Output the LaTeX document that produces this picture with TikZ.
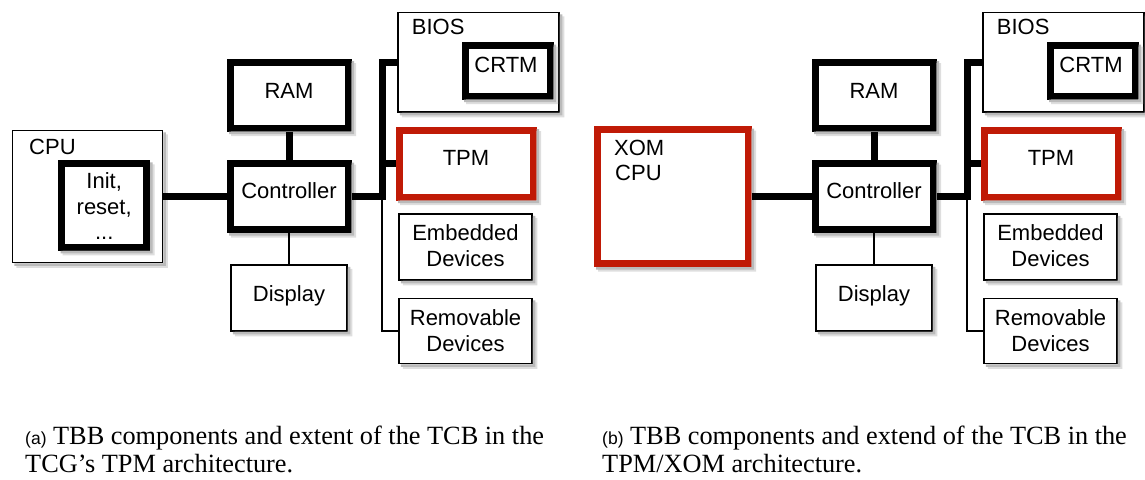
\documentclass[tikz,border=0pt]{standalone}
\usepackage{fontspec}
\setmainfont{Liberation Serif}
\newfontfamily\diagfont{Liberation Sans}
\definecolor{tcbred}{RGB}{192,26,6}
\tikzset{
  plainbox/.style={draw=black, fill=white, line width=1.5pt, inner sep=0pt},
  heavybox/.style={plainbox, line width=7pt},
  redbox/.style={plainbox, draw=tcbred, line width=7pt},
  lbl/.style={font=\diagfont\fontsize{22}{26}\selectfont, inner sep=0pt, anchor=base},
  bus/.style={line width=7pt},
  wire/.style={line width=1.5pt},
  caption/.style={font=\fontsize{26.3}{29}\selectfont, inner sep=0pt, anchor=base west},
  shade outer/.style={fill=black!13},
  shade inner/.style={fill=black!27},
}
\newcommand\capmark[1]{{\diagfont\fontsize{17.5}{20}\selectfont(#1)}}
% L-shaped shadow strip of depth #2 along the right and lower edges of box #1
\newcommand\shadestrip[3]{%
  \fill[#3] ([yshift=-#2]#1.north east) -- ([shift={(#2,-#2)}]#1.north east)
    -- ([shift={(#2,-#2)}]#1.south east) -- ([shift={(#2,-#2)}]#1.south west)
    -- ([xshift=#2]#1.south west) -- (#1.south east) -- cycle;}
\newcommand\dropshade[1]{\shadestrip{#1}{4.5pt}{shade outer}\shadestrip{#1}{2.5pt}{shade inner}}
% Memory, controller, display, BIOS/CRTM, TPM and device boxes with their bus;
% #1 = name prefix, #2 = horizontal offset of the whole group
\newcommand\platform[2]{%
\begin{scope}[xshift=#2pt]
  \node[heavybox, minimum width=118pt, minimum height=66pt] (#1ram) at (289,95) {};
  \dropshade{#1ram}
  \node[heavybox, minimum width=118pt, minimum height=66pt] (#1ctrl) at (289,196.5) {};
  \dropshade{#1ctrl}
  \node[plainbox, minimum width=116pt, minimum height=66pt] (#1disp) at (289,298) {};
  \dropshade{#1disp}
  \node[plainbox, minimum width=161pt, minimum height=99.5pt] (#1bios) at (478.5,62.25) {};
  \dropshade{#1bios}
  \node[heavybox, minimum width=85pt, minimum height=50.5pt] (#1crtm) at (507.5,70.75) {};
  \dropshade{#1crtm}
  \node[redbox, minimum width=134pt, minimum height=67pt] (#1tpm) at (466,163.5) {};
  \dropshade{#1tpm}
  \node[plainbox, minimum width=133pt, minimum height=66pt] (#1emb) at (465.5,247) {};
  \dropshade{#1emb}
  \node[plainbox, minimum width=133pt, minimum height=65pt] (#1rem) at (465.5,331) {};
  \dropshade{#1rem}
  \node[lbl] (#1ramt) at (289,98.7) {RAM};
  \node[lbl] (#1ctrlt) at (289,198.3) {Controller};
  \node[lbl] (#1dispt) at (289,301) {Display};
  \node[lbl, anchor=base west] (#1biost) at (411.7,34.3) {BIOS};
  \node[lbl] (#1crtmt) at (506,72.7) {CRTM};
  \node[lbl] (#1tpmt) at (466,165.7) {TPM};
  \node[lbl] (#1embt) at (465.5,240.7) {Embedded};
  \node[lbl] (#1embu) at (465.5,266.7) {Devices};
  \node[lbl] (#1remt) at (465.5,325.7) {Removable};
  \node[lbl] (#1remu) at (465.5,351.7) {Devices};
  \coordinate (#1jb) at (382,196.5);
  \coordinate (#1jt) at (382,62.25);
  \draw[bus] (#1ram) -- (#1ctrl);
  \draw[wire] (#1ctrl) -- (#1disp);
  \draw[wire] (#1jb) -- (#1jb |- #1rem) -- (#1rem);
  \draw[bus] (#1ctrl) -- (#1jb) -- (#1jt) -- (#1bios);
  \draw[bus] (#1jb |- #1tpm) -- (#1tpm);
\end{scope}}
\begin{document}
\begin{tikzpicture}[x=1pt, y=-1pt]
  \useasboundingbox (0,0) rectangle (1145,479);
  % (a) conventional CPU with its init/reset logic
  \node[plainbox, minimum width=150pt, minimum height=132pt] (acpu) at (87.5,196.5) {};
  \dropshade{acpu}
  \node[lbl, anchor=base west] (acput) at (29,154) {CPU};
  \node[heavybox, minimum width=85pt, minimum height=84pt] (ainit) at (104.2,205.3) {};
  \dropshade{ainit}
  \node[lbl] (ainit1) at (104.2,188.3) {Init,};
  \node[lbl] (ainit2) at (104.2,214) {reset,};
  \node[lbl] (ainit3) at (104.2,239.5) {...};
  \platform{a}{0}
  \draw[bus] (acpu) -- (actrl);
  % (b) XOM processor
  \node[redbox, minimum width=151pt, minimum height=134pt] (bcpu) at (672.5,196.5) {};
  \dropshade{bcpu}
  \node[lbl, anchor=base west] (bcput1) at (614,155) {XOM};
  \node[lbl, anchor=base west] (bcput2) at (615,180) {CPU};
  \platform{b}{585}
  \draw[bus] (bcpu) -- (bctrl);
  % captions
  \node[caption] (capa1) at (25,444) {\capmark{a} TBB components and extent of the TCB in the};
  \node[caption] (capa2) at (25,472) {TCG’s TPM architecture.};
  \node[caption] (capb1) at (602,444) {\capmark{b} TBB components and extend of the TCB in the};
  \node[caption] (capb2) at (602,472) {TPM/XOM architecture.};
\end{tikzpicture}
\end{document}
